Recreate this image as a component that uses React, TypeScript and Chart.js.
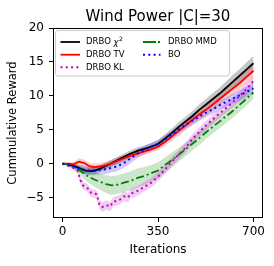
import { useEffect, useRef } from 'react';
import { Chart, registerables } from 'chart.js';
Chart.register(...registerables);

// ---------- data ----------
const iterations = [0, 20, 40, 60, 80, 100, 120, 140, 160, 180, 200, 225, 250, 275, 300, 325, 350, 375, 400, 425, 450, 475, 500, 525, 550, 575, 600, 625, 650, 675, 700];

const chiMean = [0, -0.1, -0.3, -0.6, -1.0, -1.1, -1.0, -0.7, -0.3, 0.1, 0.5, 1.0, 1.5, 1.9, 2.2, 2.5, 2.9, 3.7, 4.5, 5.4, 6.2, 7.0, 7.9, 8.7, 9.5, 10.3, 11.2, 12.1, 13.0, 13.9, 14.8];
const chiStd = [0, 0.2, 0.3, 0.4, 0.5, 0.5, 0.5, 0.5, 0.5, 0.5, 0.5, 0.5, 0.5, 0.5, 0.5, 0.5, 0.55, 0.6, 0.65, 0.7, 0.7, 0.75, 0.8, 0.85, 0.9, 0.9, 0.95, 1.0, 1.0, 1.05, 1.1];

const tvMean = [0, 0.0, -0.1, 0.3, 0.1, -0.4, -0.5, -0.4, -0.2, 0.1, 0.4, 0.8, 1.2, 1.5, 1.8, 2.1, 2.5, 3.2, 4.0, 4.8, 5.6, 6.4, 7.2, 7.9, 8.7, 9.5, 10.3, 11.1, 11.9, 12.8, 13.7];
const tvStd = [0, 0.2, 0.3, 0.5, 0.5, 0.5, 0.5, 0.5, 0.5, 0.5, 0.5, 0.5, 0.5, 0.5, 0.5, 0.5, 0.55, 0.6, 0.65, 0.7, 0.7, 0.75, 0.8, 0.85, 0.9, 0.9, 0.9, 0.95, 0.95, 1.0, 1.0];

const boMean = [0, -0.1, -0.4, -0.7, -0.9, -1.0, -1.0, -0.9, -0.8, -0.6, -0.4, 0.1, 0.8, 1.5, 2.0, 2.5, 2.9, 3.6, 4.3, 5.0, 5.7, 6.3, 6.9, 7.5, 8.0, 8.6, 9.1, 9.6, 10.1, 10.6, 11.1];
const boStd = [0, 0.2, 0.3, 0.5, 0.6, 0.7, 0.7, 0.7, 0.7, 0.7, 0.7, 0.7, 0.7, 0.7, 0.6, 0.6, 0.6, 0.6, 0.6, 0.6, 0.6, 0.6, 0.6, 0.65, 0.7, 0.7, 0.7, 0.75, 0.8, 0.8, 0.8];

const mmdMean = [0, -0.1, -0.4, -0.9, -1.5, -2.0, -2.4, -2.7, -3.0, -3.2, -3.1, -2.8, -2.5, -2.1, -1.8, -1.4, -1.0, -0.2, 0.5, 1.3, 2.1, 2.9, 3.7, 4.6, 5.4, 6.2, 7.0, 7.8, 8.7, 9.6, 10.5];
const mmdStd = [0, 0.2, 0.4, 0.6, 0.8, 1.0, 1.1, 1.2, 1.3, 1.4, 1.4, 1.4, 1.4, 1.4, 1.3, 1.2, 1.2, 1.1, 1.1, 1.0, 1.0, 1.0, 1.0, 1.0, 1.0, 1.0, 1.0, 1.0, 1.0, 1.0, 1.0];

const klIterations = [0, 20, 40, 55, 65, 75, 90, 105, 115, 125, 135, 145, 160, 175, 185, 195, 210, 225, 240, 250, 265, 280, 300, 325, 350, 375, 400, 425, 450, 475, 500, 525, 550, 575, 600, 625, 650, 675, 700];
const klMean = [0, -0.3, -0.6, -1.0, -2.4, -3.2, -3.5, -4.3, -4.4, -4.5, -6.0, -6.4, -6.1, -6.3, -5.6, -5.5, -5.3, -4.8, -5.0, -4.4, -4.2, -3.9, -3.4, -2.8, -1.9, -0.9, 0.3, 1.3, 2.3, 3.6, 4.6, 5.6, 6.5, 7.4, 8.2, 9.1, 10.0, 11.0, 12.2];
const klStd = [0, 0.2, 0.3, 0.4, 0.5, 0.6, 0.6, 0.6, 0.6, 0.6, 0.7, 0.7, 0.7, 0.7, 0.7, 0.7, 0.7, 0.7, 0.7, 0.7, 0.7, 0.7, 0.7, 0.7, 0.7, 0.7, 0.7, 0.7, 0.7, 0.7, 0.7, 0.7, 0.7, 0.7, 0.7, 0.75, 0.8, 0.8, 0.8];

const xTicks = [0, 350, 700];
const yTicks = [-5, 0, 5, 10, 15, 20];

const titleText = 'Wind Power |C|=30';
const xLabel = 'Iterations';
const yLabel = 'Cummulative Reward';

// ---------- styles ----------
const FONT = '"DejaVu Sans", sans-serif';

type Series = {
  label: string;
  sup?: string;
  x: number[];
  mean: number[];
  std: number[];
  color: string;
  fill: string;
  dash: number[];
  width: number;
  order: number;
};

const series: Series[] = [
  { label: 'DRBO ', sup: '2', x: iterations, mean: chiMean, std: chiStd, color: '#000000', fill: 'rgba(0,0,0,0.22)', dash: [], width: 1.8, order: 4 },
  { label: 'DRBO TV', x: iterations, mean: tvMean, std: tvStd, color: '#ff0000', fill: 'rgba(255,0,0,0.2)', dash: [], width: 1.8, order: 3 },
  { label: 'DRBO KL', x: klIterations, mean: klMean, std: klStd, color: '#bf00bf', fill: 'rgba(191,0,191,0.2)', dash: [2, 3.3], width: 2, order: 2 },
  { label: 'DRBO MMD', x: iterations, mean: mmdMean, std: mmdStd, color: '#008000', fill: 'rgba(0,128,0,0.2)', dash: [8, 3, 2, 3], width: 1.8, order: 1 },
  { label: 'BO', x: iterations, mean: boMean, std: boStd, color: '#0000ff', fill: 'rgba(0,0,255,0.2)', dash: [2, 3.3], width: 2, order: 0 },
];

const legendPos = [
  { hx0: 60.5, hx1: 80, tx: 86, y: 42 },
  { hx0: 60.5, hx1: 80, tx: 86, y: 54.7 },
  { hx0: 60.5, hx1: 80, tx: 86, y: 67.3 },
  { hx0: 143, hx1: 160.5, tx: 168, y: 42 },
  { hx0: 143, hx1: 160.5, tx: 168, y: 54.7 },
];
const legendDash = [[], [], [2, 3.3], [13, 2, 2, 2], [2, 3.3]];

const decorPlugin = {
  id: 'decor',
  afterDraw(chart: any) {
    const { ctx, chartArea } = chart;
    const { left, right, top, bottom } = chartArea;
    ctx.save();
    // spines
    ctx.strokeStyle = '#000';
    ctx.lineWidth = 1;
    ctx.setLineDash([]);
    ctx.strokeRect(Math.round(left) + 0.5, Math.round(top) + 0.5, Math.round(right - left) - 1, Math.round(bottom - top) - 1);

    // title
    ctx.fillStyle = '#000';
    ctx.font = `15px ${FONT}`;
    ctx.textAlign = 'center';
    ctx.textBaseline = 'alphabetic';
    ctx.fillText(titleText, (left + right) / 2, 21);

    // x label
    ctx.font = `12px ${FONT}`;
    ctx.textBaseline = 'middle';
    ctx.fillText(xLabel, (left + right) / 2, 250);

    // y label
    ctx.save();
    ctx.font = `11.5px ${FONT}`;
    ctx.translate(13.5, (top + bottom) / 2);
    ctx.rotate(-Math.PI / 2);
    ctx.fillText(yLabel, 0, 0);
    ctx.restore();

    // legend
    const bx = 55.5, by = 30.5, bw = 174, bh = 45.5, r = 2.5;
    ctx.beginPath();
    ctx.moveTo(bx + r, by);
    ctx.lineTo(bx + bw - r, by);
    ctx.quadraticCurveTo(bx + bw, by, bx + bw, by + r);
    ctx.lineTo(bx + bw, by + bh - r);
    ctx.quadraticCurveTo(bx + bw, by + bh, bx + bw - r, by + bh);
    ctx.lineTo(bx + r, by + bh);
    ctx.quadraticCurveTo(bx, by + bh, bx, by + bh - r);
    ctx.lineTo(bx, by + r);
    ctx.quadraticCurveTo(bx, by, bx + r, by);
    ctx.closePath();
    ctx.fillStyle = 'rgba(255,255,255,0.8)';
    ctx.fill();
    ctx.strokeStyle = '#cccccc';
    ctx.lineWidth = 1;
    ctx.stroke();

    series.forEach((s, i) => {
      const p = legendPos[i];
      ctx.beginPath();
      ctx.strokeStyle = s.color;
      ctx.lineWidth = s.width;
      ctx.lineCap = 'butt';
      ctx.setLineDash(legendDash[i]);
      ctx.moveTo(p.hx0, p.y);
      ctx.lineTo(p.hx1, p.y);
      ctx.stroke();
      ctx.setLineDash([]);
      ctx.fillStyle = '#000';
      ctx.font = `8.5px ${FONT}`;
      ctx.textAlign = 'left';
      ctx.textBaseline = 'middle';
      ctx.fillText(s.label, p.tx, p.y);
      if (s.sup) {
        const w = ctx.measureText(s.label).width;
        ctx.font = `italic 8.5px ${FONT}`;
        ctx.fillText('\u03c7', p.tx + w, p.y + 1);
        const w2 = ctx.measureText('\u03c7').width;
        ctx.font = `6px ${FONT}`;
        ctx.fillText(s.sup, p.tx + w + w2 + 0.5, p.y - 3);
      }
    });
    ctx.restore();
  },
};

export default function App() {
  const ref = useRef<HTMLCanvasElement | null>(null);
  useEffect(() => {
    document.body.style.margin = '0';
    if (!ref.current) return;
    const datasets: any[] = [];
    series.forEach((s) => {
      datasets.push({
        label: s.label,
        data: s.x.map((x, i) => ({ x, y: s.mean[i] })),
        borderColor: s.color,
        borderWidth: s.width,
        borderDash: s.dash,
        borderCapStyle: 'butt',
        pointRadius: 0,
        fill: false,
        tension: 0,
        order: s.order,
      });
    });
    series.forEach((s, k) => {
      datasets.push({
        label: s.label + ' upper',
        data: s.x.map((x, i) => ({ x, y: s.mean[i] + s.std[i] })),
        borderColor: 'transparent',
        borderWidth: 1,
        backgroundColor: s.fill,
        pointRadius: 0,
        fill: '+1',
        tension: 0,
        order: 10 + k,
      });
      datasets.push({
        label: s.label + ' lower',
        data: s.x.map((x, i) => ({ x, y: s.mean[i] - s.std[i] })),
        borderColor: 'transparent',
        borderWidth: 1,
        pointRadius: 0,
        fill: false,
        tension: 0,
        order: 10 + k,
      });
    });

    const chart = new Chart(ref.current, {
      type: 'line',
      data: { datasets },
      options: {
        responsive: false,
        animation: false,
        layout: { padding: { top: 28, right: 11, left: 0, bottom: 0 } },
        plugins: { legend: { display: false }, title: { display: false }, tooltip: { enabled: false } },
        scales: {
          x: {
            type: 'linear',
            min: -35,
            max: 735,
            afterFit: (sc: any) => { sc.height = 48; },
            afterBuildTicks: (sc: any) => { sc.ticks = xTicks.map((v) => ({ value: v })); },
            grid: { display: true, drawOnChartArea: false, drawTicks: true, tickLength: 4, tickColor: '#000' },
            border: { display: false },
            ticks: { color: '#000', font: { family: FONT, size: 12 }, padding: 3, maxRotation: 0, autoSkip: false, callback: (v: any) => String(v) },
          },
          y: {
            type: 'linear',
            min: -8,
            max: 20,
            afterFit: (sc: any) => { sc.width = 53; },
            afterBuildTicks: (sc: any) => { sc.ticks = yTicks.map((v) => ({ value: v })); },
            grid: { display: true, drawOnChartArea: false, drawTicks: true, tickLength: 4, tickColor: '#000' },
            border: { display: false },
            ticks: { color: '#000', font: { family: FONT, size: 12 }, padding: 5, autoSkip: false, callback: (v: any) => (v < 0 ? '\u2212' + Math.abs(v) : String(v)) },
          },
        },
      },
      plugins: [decorPlugin],
    });
    return () => chart.destroy();
  }, []);
  return (
    <div style={{ width: 274, height: 266 }}>
      <canvas ref={ref} width={274} height={266} />
    </div>
  );
}
